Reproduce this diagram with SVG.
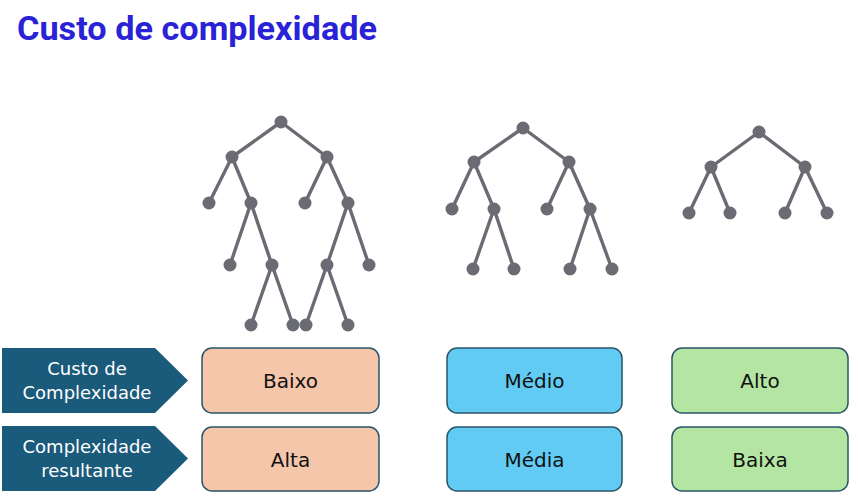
<svg xmlns="http://www.w3.org/2000/svg" width="858" height="497" viewBox="0 0 858 497">
<style>
.edge{stroke:#6A6B73;stroke-width:3.4;fill:none;stroke-linecap:round}
.dot{fill:#6A6B73}
.arrow{fill:#1A5A7B}
.lbl{font-family:"DejaVu Sans",sans-serif;font-size:18px;fill:#FFFFFF;text-anchor:middle}
.box{stroke:#2A5468;stroke-width:1.5}
.val{font-family:"DejaVu Sans",sans-serif;font-size:20px;fill:#111111;text-anchor:middle}
.title{font-family:Roboto,"Liberation Sans",sans-serif;font-weight:bold;font-size:34px;fill:#2A22D6}
</style>
<rect width="858" height="497" fill="#FFFFFF"/>
<text class="title" x="17" y="40" textLength="360" lengthAdjust="spacingAndGlyphs">Custo de complexidade</text>

<g id="connectors">
  <path class="edge" d="M281,122L232,157M281,122L327,157M232,157L209,203M232,157L251,203M327,157L305,203M327,157L348,203M251,203L230,265M251,203L272,265M348,203L327,265M348,203L369,265M272,265L251,325M272,265L293,325M327,265L306,325M327,265L348,325"/>
  <path class="edge" d="M523,128L474,162M523,128L569,162M474,162L452,209M474,162L494,209M569,162L547,209M569,162L590,209M494,209L473,269M494,209L514,269M590,209L570,269M590,209L612,269"/>
  <path class="edge" d="M759,132L711,167M759,132L805,167M711,167L689,213M711,167L730,213M805,167L785,213M805,167L827,213"/>
</g>

<g id="tree1">
  <circle class="dot" cx="281" cy="122" r="6.5"/>
  <circle class="dot" cx="232" cy="157" r="6.5"/>
  <circle class="dot" cx="327" cy="157" r="6.5"/>
  <circle class="dot" cx="209" cy="203" r="6.5"/>
  <circle class="dot" cx="251" cy="203" r="6.5"/>
  <circle class="dot" cx="305" cy="203" r="6.5"/>
  <circle class="dot" cx="348" cy="203" r="6.5"/>
  <circle class="dot" cx="230" cy="265" r="6.5"/>
  <circle class="dot" cx="272" cy="265" r="6.5"/>
  <circle class="dot" cx="327" cy="265" r="6.5"/>
  <circle class="dot" cx="369" cy="265" r="6.5"/>
  <circle class="dot" cx="251" cy="325" r="6.5"/>
  <circle class="dot" cx="293" cy="325" r="6.5"/>
  <circle class="dot" cx="306" cy="325" r="6.5"/>
  <circle class="dot" cx="348" cy="325" r="6.5"/>
</g>
<g id="tree2">
  <circle class="dot" cx="523" cy="128" r="6.5"/>
  <circle class="dot" cx="474" cy="162" r="6.5"/>
  <circle class="dot" cx="569" cy="162" r="6.5"/>
  <circle class="dot" cx="452" cy="209" r="6.5"/>
  <circle class="dot" cx="494" cy="209" r="6.5"/>
  <circle class="dot" cx="547" cy="209" r="6.5"/>
  <circle class="dot" cx="590" cy="209" r="6.5"/>
  <circle class="dot" cx="473" cy="269" r="6.5"/>
  <circle class="dot" cx="514" cy="269" r="6.5"/>
  <circle class="dot" cx="570" cy="269" r="6.5"/>
  <circle class="dot" cx="612" cy="269" r="6.5"/>
</g>
<g id="tree3">
  <circle class="dot" cx="759" cy="132" r="6.5"/>
  <circle class="dot" cx="711" cy="167" r="6.5"/>
  <circle class="dot" cx="805" cy="167" r="6.5"/>
  <circle class="dot" cx="689" cy="213" r="6.5"/>
  <circle class="dot" cx="730" cy="213" r="6.5"/>
  <circle class="dot" cx="785" cy="213" r="6.5"/>
  <circle class="dot" cx="827" cy="213" r="6.5"/>
</g>

<g id="label-custo">
  <polygon class="arrow" points="2,348 155,348 188,380.5 155,413 2,413"/>
  <text class="lbl" x="87" y="375">Custo de</text>
  <text class="lbl" x="87" y="399">Complexidade</text>
</g>
<g id="label-resultante">
  <polygon class="arrow" points="2,426 155,426 188,458.5 155,491 2,491"/>
  <text class="lbl" x="87" y="453">Complexidade</text>
  <text class="lbl" x="87" y="477">resultante</text>
</g>

<g id="box-baixo">
  <rect class="box" x="202" y="348" width="177" height="65" rx="10" fill="#F5C6AA"/>
  <text class="val" x="290.5" y="388">Baixo</text>
</g>
<g id="box-alta">
  <rect class="box" x="202" y="427" width="177" height="64" rx="10" fill="#F5C6AA"/>
  <text class="val" x="290.5" y="467">Alta</text>
</g>
<g id="box-medio">
  <rect class="box" x="447" y="348" width="175" height="65" rx="10" fill="#61CBF3"/>
  <text class="val" x="534.5" y="388">Médio</text>
</g>
<g id="box-media">
  <rect class="box" x="447" y="427" width="175" height="64" rx="10" fill="#61CBF3"/>
  <text class="val" x="534.5" y="467">Média</text>
</g>
<g id="box-alto">
  <rect class="box" x="672" y="348" width="176" height="65" rx="10" fill="#B4E5A2"/>
  <text class="val" x="760" y="388">Alto</text>
</g>
<g id="box-baixa">
  <rect class="box" x="672" y="427" width="176" height="64" rx="10" fill="#B4E5A2"/>
  <text class="val" x="760" y="467">Baixa</text>
</g>
</svg>
